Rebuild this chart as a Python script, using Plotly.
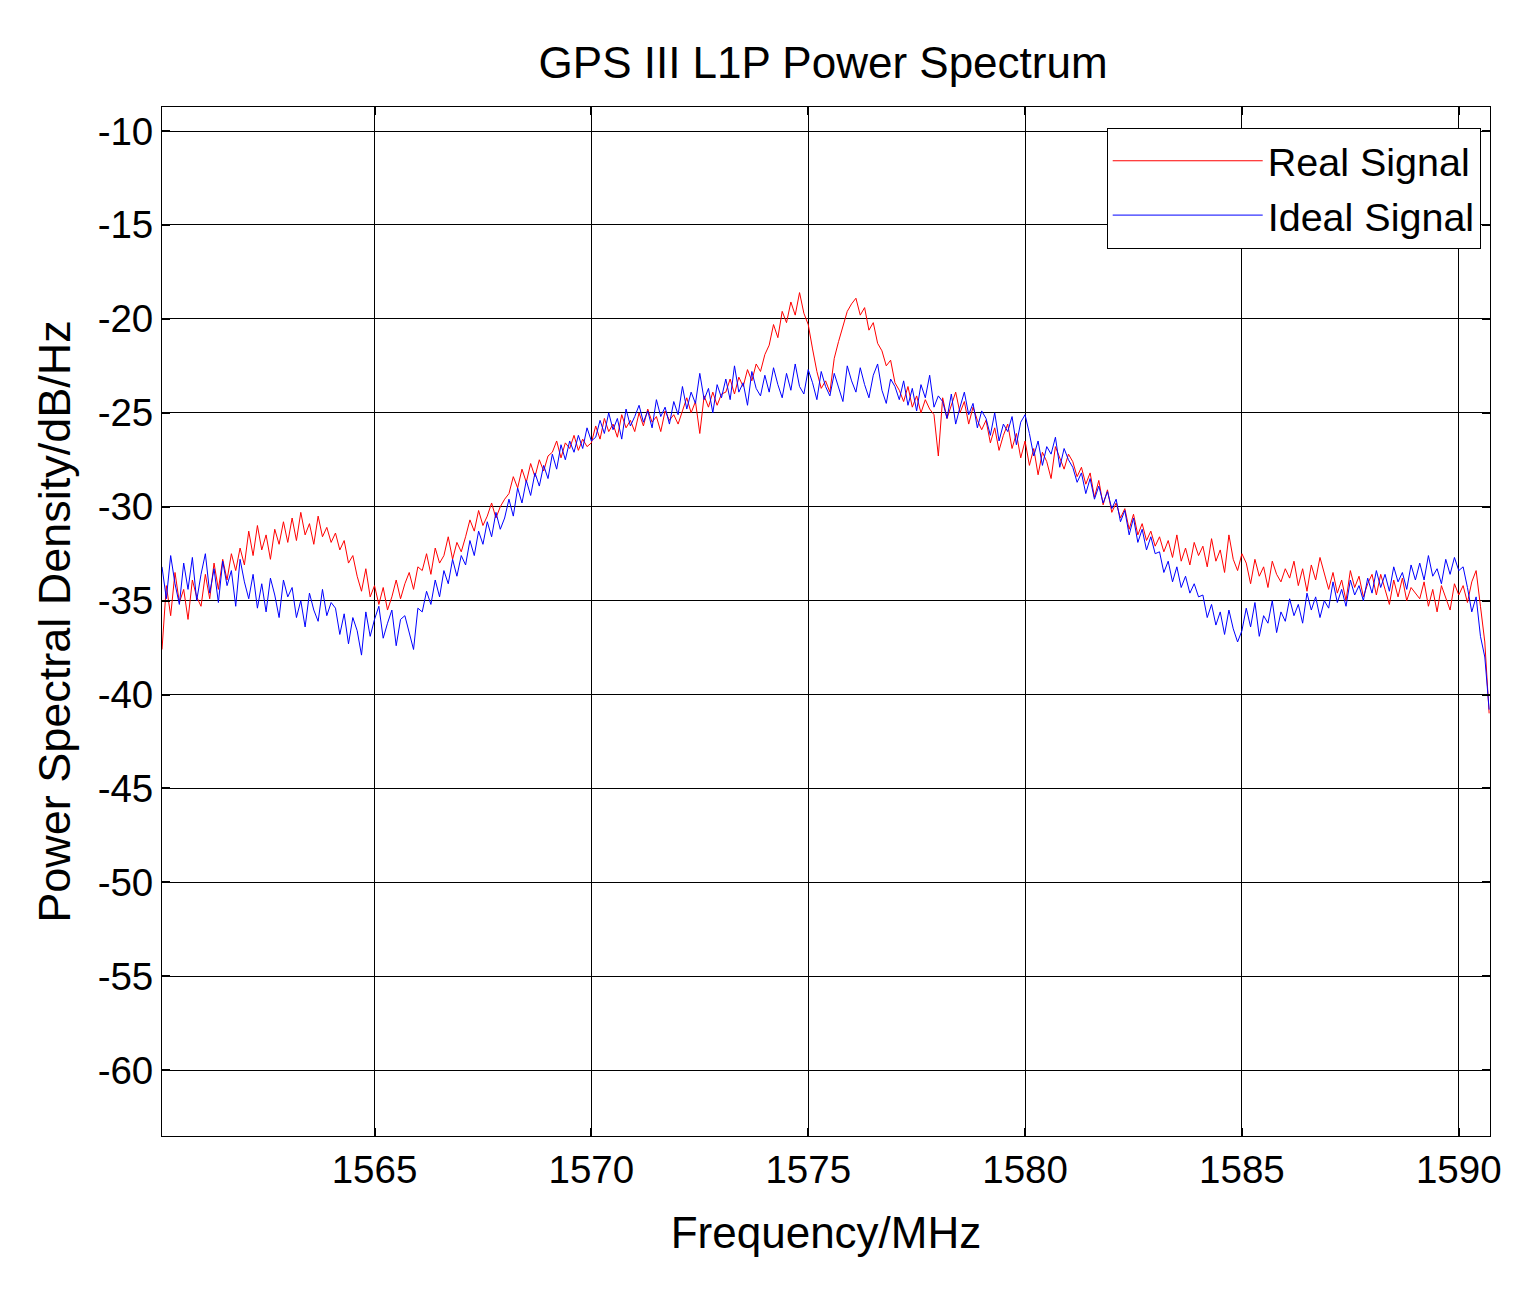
import numpy as np
import plotly.graph_objects as go

# frequency grid (MHz), 0.1 MHz steps across the plotted band
f_start, f_stop = 1560.1, 1590.7
freq = np.round(np.linspace(f_start, f_stop, 307), 2)

# Ideal signal PSD (dB/Hz)
ideal_psd = [
    -33.2, -34.9, -32.6, -34.1, -35.2, -33.0, -34.4, -32.7, -35.0, -33.6,
    -32.5, -34.6, -33.3, -35.1, -32.9, -34.2, -33.4, -35.3, -32.8, -34.0,
    -34.9, -33.6, -35.4, -34.1, -35.6, -33.8, -34.7, -35.9, -33.9, -34.8,
    -34.3, -35.9, -35.0, -36.4, -34.6, -35.5, -36.1, -34.4, -35.8, -35.1,
    -35.4, -36.8, -35.7, -37.3, -35.9, -36.6, -37.9, -35.6, -36.9, -36.0,
    -35.3, -37.0, -36.2, -35.5, -37.4, -36.0, -35.8, -36.7, -37.6, -35.4,
    -35.6, -34.5, -35.2, -33.9, -34.8, -33.4, -34.1, -32.8, -33.7, -32.6,
    -33.1, -31.8, -32.6, -31.3, -32.0, -30.8, -31.6, -30.3, -31.2, -30.6,
    -29.6, -30.5, -29.0, -29.8, -28.6, -29.4, -28.2, -28.9, -27.8, -28.5,
    -27.2, -28.0, -26.7, -27.5, -26.5, -27.1, -26.2, -26.9, -25.8, -26.5,
    -26.3, -25.4, -26.1, -25.0, -25.9, -25.3, -26.4, -24.8, -25.7, -25.2,
    -24.6, -25.5, -24.9, -25.8, -24.3, -25.2, -24.7, -25.6, -24.4, -25.1,
    -23.6, -24.8, -23.9, -24.5, -22.9, -24.3, -23.7, -25.0, -23.5, -24.2,
    -23.2, -24.3, -22.5, -23.9, -23.4, -24.6, -22.8, -23.7, -24.1, -23.0,
    -23.9, -22.6, -23.5, -24.2, -22.9, -23.8, -22.4, -23.6, -24.0, -22.7,
    -23.4, -24.3, -22.8, -23.6, -24.1, -22.9, -23.7, -24.4, -22.5, -23.3,
    -23.9, -22.6, -23.5, -24.2, -23.0, -22.4, -23.8, -24.5, -23.2, -23.6,
    -24.3, -23.3, -24.6, -23.7, -24.9, -23.5, -24.2, -23.0, -24.7, -24.1,
    -24.4, -25.3, -24.0, -25.6, -24.7, -23.9, -25.1, -24.5, -25.8, -24.9,
    -25.3, -26.2, -25.0, -26.5, -25.6, -26.0, -25.2, -26.7, -25.5, -25.1,
    -26.1, -27.3, -26.5, -27.8, -26.8, -27.2, -26.3, -27.9, -26.9, -27.5,
    -27.9, -28.7, -28.2, -29.3, -28.5, -29.6, -28.9, -29.8, -29.2, -30.1,
    -29.6, -30.8, -30.2, -31.5, -30.6, -31.9, -31.2, -32.3, -31.6, -32.5,
    -32.4, -33.5, -32.9, -34.0, -33.2, -34.3, -33.7, -34.6, -34.1, -34.8,
    -34.7, -35.9, -35.2, -36.3, -35.6, -36.8, -35.5, -36.5, -37.2, -36.6,
    -35.4, -36.4, -35.1, -36.9, -35.8, -36.2, -35.0, -36.7, -35.6, -36.1,
    -34.9, -35.8, -35.2, -36.2, -34.6, -35.5, -34.8, -35.9, -35.0, -35.4,
    -34.0, -35.1, -34.4, -35.3, -33.9, -34.7, -34.2, -35.0, -33.8, -34.6,
    -33.4, -34.3, -33.6, -34.5, -33.2, -34.0, -33.5, -34.4, -33.1, -33.9,
    -33.0, -33.9, -32.6, -33.7, -33.3, -34.1, -32.8, -33.6, -32.7, -33.4,
    -33.2, -34.3, -35.6, -34.8, -36.9, -38.0, -40.8,
]

# Real (measured) signal PSD (dB/Hz)
real_psd = [
    -37.6, -34.2, -35.8, -33.5, -35.1, -34.4, -36.0, -33.9, -34.8, -35.3,
    -33.6, -34.9, -33.0, -34.4, -32.8, -33.9, -32.5, -33.4, -32.2, -33.1,
    -31.3, -32.6, -31.0, -32.3, -31.5, -32.8, -31.2, -32.0, -30.8, -31.9,
    -30.6, -31.8, -30.3, -31.5, -30.9, -32.0, -30.5, -31.6, -31.1, -31.9,
    -31.4, -32.3, -31.8, -33.0, -32.6, -33.7, -34.5, -33.3, -34.8, -34.2,
    -35.2, -34.3, -35.5, -34.8, -33.9, -34.9, -34.1, -33.5, -34.4, -33.2,
    -33.4, -32.5, -33.6, -32.2, -33.0, -32.6, -31.6, -32.8, -31.9, -32.4,
    -31.6, -30.7, -31.3, -30.2, -31.0, -30.5, -29.8, -30.6, -30.0, -29.6,
    -29.3, -28.4, -29.0, -28.0, -28.7, -27.7, -28.4, -27.5, -28.1, -27.3,
    -27.1, -26.5, -27.4, -26.6, -26.9, -26.2, -27.0, -26.4, -26.8, -26.6,
    -25.7, -26.4, -25.3, -26.0, -25.6, -26.3, -25.1, -25.8, -25.4, -26.0,
    -25.0, -25.7, -24.8, -25.5, -25.2, -26.0, -24.9, -25.4, -25.1, -25.6,
    -24.9, -24.2, -25.0, -24.4, -26.1, -24.1, -24.7, -23.9, -24.6, -24.0,
    -23.9, -23.2, -24.0, -23.1, -23.6, -22.7, -23.3, -22.4, -22.8, -21.9,
    -21.4, -20.3, -21.0, -19.6, -20.2, -19.1, -19.8, -18.6, -19.7, -20.3,
    -21.6, -22.8, -23.7, -23.3, -23.9, -22.1, -21.2, -20.4, -19.6, -19.2,
    -18.9, -19.8, -19.4, -20.6, -20.2, -21.3, -21.7, -22.5, -22.2, -23.4,
    -23.8, -24.4, -23.6, -24.7, -24.1, -25.0, -24.3, -24.8, -25.1, -27.3,
    -24.2, -25.3, -24.6, -23.9, -25.0, -24.4, -25.6, -24.7, -25.4, -25.9,
    -25.4, -26.6, -25.8, -27.0, -26.2, -25.6, -26.9, -26.1, -27.4, -26.5,
    -27.8, -26.9, -28.3, -27.1, -27.6, -28.5, -26.8, -27.4, -28.0, -27.2,
    -27.6, -28.4, -27.9, -28.8, -28.2, -29.5, -28.6, -29.9, -29.1, -30.3,
    -29.8, -30.6, -30.1, -31.2, -30.4, -31.5, -30.9, -31.8, -31.3, -32.1,
    -31.6, -32.4, -31.8, -32.7, -31.5, -32.9, -32.2, -33.1, -31.9, -32.6,
    -32.1, -33.2, -31.7, -32.9, -32.3, -33.5, -31.5, -32.8, -33.4, -32.5,
    -33.0, -34.1, -32.8, -33.7, -33.2, -34.3, -32.9, -33.6, -34.0, -33.3,
    -33.8, -32.9, -34.2, -33.3, -34.5, -33.1, -33.9, -32.7, -33.6, -34.4,
    -33.5, -34.6, -33.9, -35.0, -33.4, -34.3, -33.7, -34.8, -34.1, -33.6,
    -34.7, -33.6, -34.4, -35.2, -33.9, -34.8, -33.8, -35.0, -34.3, -34.6,
    -34.9, -34.0, -35.3, -34.4, -35.6, -34.2, -34.8, -35.5, -34.1, -34.7,
    -34.2, -35.1, -34.0, -33.4, -35.3, -37.2, -41.0,
]

x_ticks = [1565, 1570, 1575, 1580, 1585, 1590]
y_ticks = [-10, -15, -20, -25, -30, -35, -40, -45, -50, -55, -60]
y_ticklabels = ["-10", "-15", "-20", "-25", "-30", "-35", "-40", "-45", "-50", "-55", "-60"]

FONT = "Arial, Liberation Sans, sans-serif"

fig = go.Figure()
fig.add_trace(go.Scatter(x=freq, y=real_psd, mode="lines", name="Real Signal",
                         line=dict(color="#ff0000", width=1)))
fig.add_trace(go.Scatter(x=freq, y=ideal_psd, mode="lines", name="Ideal Signal",
                         line=dict(color="#0000ff", width=1)))

axis_common = dict(
    showgrid=True, gridcolor="black", gridwidth=1,
    showline=True, linecolor="black", linewidth=1, mirror="ticks",
    ticks="inside", ticklen=8, tickcolor="black", tickwidth=2,
    zeroline=False, tickfont=dict(size=38.5, color="black", family=FONT),
)

fig.update_xaxes(range=[1560.1, 1590.72], tickvals=x_ticks,
                 title=dict(text="Frequency/MHz", font=dict(size=44, family=FONT, color="black"),
                            standoff=26),
                 **axis_common)
fig.update_yaxes(range=[-63.5, -8.72], tickvals=y_ticks, ticktext=y_ticklabels,
                 title=dict(text="Power Spectral Density/dB/Hz",
                            font=dict(size=45, family=FONT, color="black"), standoff=12),
                 **axis_common)

fig.update_layout(
    width=1535, height=1291,
    paper_bgcolor="white", plot_bgcolor="white",
    margin=dict(l=154, r=53, t=99, b=163),
    title=dict(text="GPS III L1P Power Spectrum", x=0.531, xanchor="center",
               y=0.958, yanchor="middle",
               font=dict(size=44, family=FONT, color="black")),
    legend=dict(x=0.993, xanchor="right", y=0.98, yanchor="top",
                bgcolor="white", bordercolor="black", borderwidth=1,
                font=dict(size=39.5, family=FONT, color="black"),
                itemwidth=150, tracegroupgap=0),
    showlegend=True,
)

fig.write_html("out.html")
